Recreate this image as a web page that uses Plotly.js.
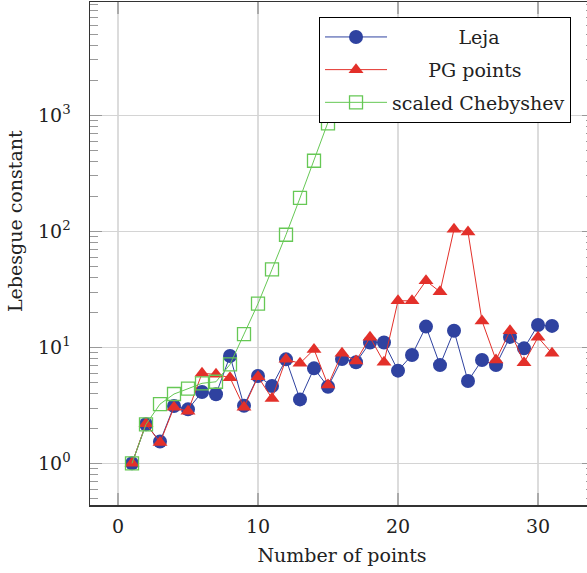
<!DOCTYPE html>
<html>
<head>
<meta charset="utf-8">
<script src="https://cdn.plot.ly/plotly-3.0.1.min.js"></script>
<style>
html, body { margin: 0; padding: 0; overflow: hidden; background: #fff; }
#chart { width: 600px; height: 573px; }
</style>
</head>
<body>
<div id="chart"></div>
<script>
// Data
var nPoints = [1,2,3,4,5,6,7,8,9,10,11,12,13,14,15,16,17,18,19,20,21,22,23,24,25,26,27,28,29,30,31];
var lejaValues = [1.0, 2.17, 1.54, 3.12, 2.92, 4.12, 3.94, 8.41, 3.14, 5.66, 4.64, 7.88, 3.56, 6.59, 4.57, 7.93, 7.43, 11.0, 11.0, 6.3, 8.59, 15.1, 7.03, 13.9, 5.12, 7.77, 7.03, 12.3, 9.8, 15.6, 15.3];
var pgValues = [1.0, 2.2, 1.51, 3.04, 2.81, 5.97, 5.85, 5.47, 3.04, 5.58, 3.63, 7.88, 7.28, 9.6, 4.73, 8.88, 7.62, 12.2, 7.43, 25.2, 25.2, 37.5, 30.1, 104, 98.6, 16.9, 7.77, 13.9, 7.36, 12.2, 8.88];
var chebPoints = [1,2,3,4,5,6,7,8,9,10,11,12,13,14,15,16,17];
var chebValues = [1.0, 2.17, 3.24, 3.96, 4.40, 4.9, 5.05, 7.13, 13.0, 23.8, 47, 93.5, 194, 406, 853, 1850, 4000];
var seriesNames = ['Leja', 'PG points', 'scaled Chebyshev'];
var yTickVals = [1, 10, 100, 1000];
var yTickText = ['10<sup>0</sup>', '10<sup>1</sup>', '10<sup>2</sup>', '10<sup>3</sup>'];
var xTickVals = [0, 10, 20, 30];
var xTitle = 'Number of points';
var yTitle = 'Lebesgue constant';

var FONT = 'DejaVu Serif, serif';
var FS = 19;
var nb = function (n) { return '\u00a0'.repeat(n); };

var traces = [
  {
    x: nPoints, y: lejaValues, type: 'scatter', mode: 'lines+markers',
    name: nb(11) + seriesNames[0], legendgroup: 'a',
    line: { color: '#2f42a0', width: 1 },
    marker: { symbol: 'circle', size: 14, color: '#2f42a0' }
  },
  {
    x: nPoints, y: pgValues, type: 'scatter', mode: 'lines+markers',
    name: nb(6) + seriesNames[1], legendgroup: 'b',
    line: { color: '#e3302a', width: 1 },
    marker: { symbol: 'triangle-up', size: 13, color: '#e3302a' }
  },
  {
    x: chebPoints, y: chebValues, type: 'scatter', mode: 'lines+markers',
    name: seriesNames[2], legendgroup: 'c',
    line: { color: '#66c855', width: 1 },
    marker: { symbol: 'square-open', size: 13, color: '#66c855', line: { width: 1.3, color: '#66c855' } }
  }
];

var layout = {
  width: 600, height: 573,
  margin: { l: 90, r: 6, t: 2, b: 68 },
  paper_bgcolor: '#fff', plot_bgcolor: '#fff',
  font: { family: FONT, size: FS, color: '#222' },
  showlegend: true,
  legend: {
    x: 0.4544, y: 0.970, xanchor: 'left', yanchor: 'top',
    bgcolor: '#fff', bordercolor: '#000', borderwidth: 1,
    font: { family: FONT, size: FS, color: '#222' },
    tracegroupgap: 5, itemwidth: 62
  },
  xaxis: {
    range: [-2, 34],
    tickvals: xTickVals,
    ticks: 'inside', ticklen: 12, tickcolor: '#aaa', tickwidth: 1.5,
    showgrid: true, gridcolor: '#dcdcdc', gridwidth: 1.5,
    zeroline: false,
    showline: true, linecolor: '#333', linewidth: 1.5, mirror: 'ticks',
    tickfont: { family: FONT, size: FS, color: '#222' },
    ticklabelstandoff: 4,
    title: { text: xTitle, font: { family: FONT, size: FS, color: '#222' }, standoff: 12 }
  },
  yaxis: {
    type: 'log',
    range: [-0.359, 3.977],
    tickvals: yTickVals, ticktext: yTickText,
    ticks: 'inside', ticklen: 12, tickcolor: '#999', tickwidth: 1.2,
    minor: { ticks: 'inside', ticklen: 8, tickcolor: '#999', tickwidth: 1, dtick: 'D1', showgrid: false },
    showgrid: true, gridcolor: '#d4d4d4', gridwidth: 1.2,
    zeroline: false,
    showline: true, linecolor: '#333', linewidth: 1.5, mirror: 'ticks',
    tickfont: { family: FONT, size: FS, color: '#222' },
    ticklabelstandoff: 14
  },
  annotations: [
    {
      text: yTitle, textangle: -90, showarrow: false,
      xref: 'paper', yref: 'paper', x: -0.1488, y: 0.5646,
      xanchor: 'center', yanchor: 'middle',
      font: { family: FONT, size: FS, color: '#222' }
    }
  ]
};

Plotly.newPlot('chart', traces, layout, { displayModeBar: false, staticPlot: true });
</script>
</body>
</html>
